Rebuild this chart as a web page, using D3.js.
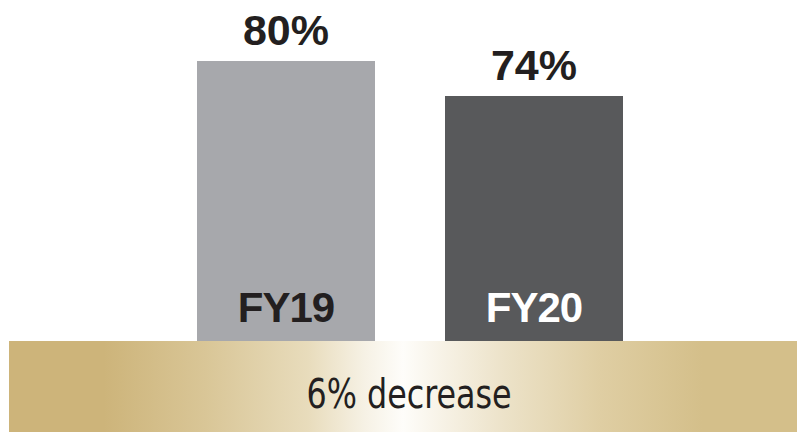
<!DOCTYPE html>
<html>
<head>
<meta charset="utf-8">
<script src="https://cdn.jsdelivr.net/npm/d3@7/dist/d3.min.js"></script>
<style>
  html, body { margin: 0; padding: 0; background: #fff; }
  svg { display: block; }
</style>
</head>
<body>
<svg id="chart" width="797" height="432"></svg>
<script>
// Share of total, by fiscal year
const categories = ["FY19", "FY20"];
const values = [80, 74];
const barColors = ["#a7a8ac", "#58595b"];
const nameColors = ["#231f20", "#ffffff"];
const changeLabel = "6% decrease";

const width = 797, height = 432;
const baseY = 341;       // top of the band the bars stand on
const topY = 61;

const svg = d3.select("#chart");

const x = d3.scaleBand()
  .domain(categories)
  .range([197, 623])
  .paddingInner(0.2823)
  .paddingOuter(0);

// value axis starts above zero so the bars sit on the band
const y = d3.scaleLinear().domain([32, 80]).range([baseY, topY]);

// gold band, fading to white in the middle
const defs = svg.append("defs");
const grad = defs.append("linearGradient")
  .attr("id", "gold")
  .attr("x1", "0%").attr("x2", "100%").attr("y1", "0%").attr("y2", "0%");
[
  [0, "#cdb47a"], [0.12, "#cdb47a"], [0.25, "#d9c697"],
  [0.38, "#e8dcbc"], [0.45, "#f6f1e4"], [0.5, "#fefdfa"],
  [0.55, "#f7f2e6"], [0.63, "#ece2c8"], [0.75, "#dfcea3"],
  [0.88, "#d4bf8a"], [1, "#d4bf8a"]
].forEach(([o, c]) => grad.append("stop").attr("offset", o).attr("stop-color", c));

svg.append("rect")
  .attr("x", 9).attr("y", baseY)
  .attr("width", width - 9).attr("height", height - baseY)
  .attr("fill", "url(#gold)");

svg.append("text")
  .attr("x", 409).attr("y", 408)
  .attr("text-anchor", "middle")
  .attr("font-family", "'Liberation Sans Narrow', 'DejaVu Sans Condensed', 'Liberation Sans', sans-serif")
  .attr("font-size", 40)
  .attr("fill", "#231f20")
  .attr("textLength", 205)
  .attr("lengthAdjust", "spacingAndGlyphs")
  .text(changeLabel);

const g = svg.append("g");

const bars = g.selectAll("g.bar")
  .data(categories.map((c, i) => ({ c, v: values[i], i })))
  .join("g").attr("class", "bar");

bars.append("rect")
  .attr("x", d => x(d.c))
  .attr("y", d => y(d.v))
  .attr("width", x.bandwidth())
  .attr("height", d => baseY - y(d.v))
  .attr("fill", d => barColors[d.i]);

bars.append("text")
  .attr("x", d => x(d.c) + x.bandwidth() / 2)
  .attr("y", d => y(d.v) - 16)
  .attr("text-anchor", "middle")
  .attr("font-family", "'Liberation Sans', Arial, sans-serif")
  .attr("font-weight", "bold")
  .attr("font-size", 43)
  .attr("fill", "#231f20")
  .text(d => d.v + "%");

bars.append("text")
  .attr("x", d => x(d.c) + x.bandwidth() / 2)
  .attr("y", 322)
  .attr("text-anchor", "middle")
  .attr("font-family", "'Liberation Sans', Arial, sans-serif")
  .attr("font-weight", "bold")
  .attr("font-size", 42)
  .attr("letter-spacing", -1)
  .attr("fill", d => nameColors[d.i])
  .text(d => d.c);
</script>
</body>
</html>
